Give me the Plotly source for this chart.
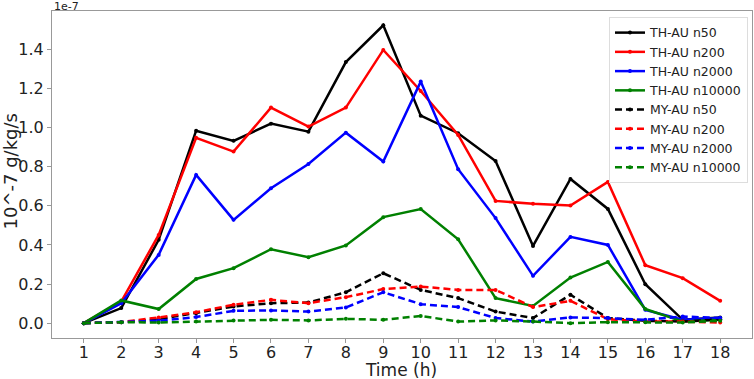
import plotly.graph_objects as go

hours = list(range(1, 19))
tick_labels = [str(h) for h in hours]

th_n50 = [0.0, 0.077, 0.426, 0.984, 0.932, 1.02, 0.979, 1.335, 1.523, 1.061, 0.971, 0.829, 0.395, 0.737, 0.584, 0.199, 0.017, 0.029]
th_n200 = [0.0, 0.11, 0.451, 0.948, 0.877, 1.102, 1.005, 1.102, 1.397, 1.187, 0.962, 0.625, 0.61, 0.601, 0.722, 0.296, 0.23, 0.114]
th_n2000 = [0.0, 0.102, 0.349, 0.758, 0.528, 0.69, 0.814, 0.974, 0.826, 1.235, 0.787, 0.537, 0.242, 0.441, 0.4, 0.068, 0.017, 0.026]
th_n10000 = [0.0, 0.116, 0.072, 0.226, 0.281, 0.378, 0.337, 0.397, 0.542, 0.583, 0.429, 0.128, 0.088, 0.233, 0.313, 0.072, 0.008, 0.017]
my_n50 = [0.0, 0.005, 0.02, 0.051, 0.085, 0.102, 0.105, 0.158, 0.255, 0.17, 0.128, 0.059, 0.026, 0.145, 0.026, 0.012, 0.008, 0.02]
my_n200 = [0.0, 0.005, 0.029, 0.056, 0.094, 0.119, 0.102, 0.133, 0.174, 0.187, 0.17, 0.17, 0.082, 0.114, 0.02, 0.008, 0.008, 0.003]
my_n2000 = [0.0, 0.005, 0.012, 0.031, 0.063, 0.065, 0.059, 0.08, 0.158, 0.097, 0.082, 0.026, 0.008, 0.029, 0.026, 0.017, 0.034, 0.026]
my_n10000 = [0.0, 0.005, 0.003, 0.008, 0.014, 0.017, 0.014, 0.022, 0.017, 0.037, 0.008, 0.014, 0.008, 0.0, 0.005, 0.005, 0.003, 0.012]

y_ticks = [0.0, 0.2, 0.4, 0.6, 0.8, 1.0, 1.2, 1.4]

series = [
    ("TH-AU n50", th_n50, "black", "solid"),
    ("TH-AU n200", th_n200, "red", "solid"),
    ("TH-AU n2000", th_n2000, "blue", "solid"),
    ("TH-AU n10000", th_n10000, "green", "solid"),
    ("MY-AU n50", my_n50, "black", "7px,4px"),
    ("MY-AU n200", my_n200, "red", "7px,4px"),
    ("MY-AU n2000", my_n2000, "blue", "7px,4px"),
    ("MY-AU n10000", my_n10000, "green", "7px,4px"),
]

fig = go.Figure()
for name, vals, color, dash in series:
    fig.add_trace(go.Scatter(
        x=hours, y=vals, name=name, mode="lines+markers",
        line=dict(color=color, width=2.5, dash=dash),
        marker=dict(color=color, size=4),
    ))

axis_common = dict(
    showgrid=False, zeroline=False, showline=True, mirror=True, automargin=False,
    linecolor="#999999", linewidth=1, ticks="outside", ticklen=4,
    tickcolor="#999999", tickfont=dict(family="DejaVu Sans", size=16, color="#222"),
)

fig.update_layout(
    width=754, height=379,
    margin=dict(l=52, r=2, t=11, b=41, autoexpand=False),
    paper_bgcolor="white", plot_bgcolor="white",
    font=dict(family="DejaVu Sans", color="#222"),
    xaxis=dict(range=[0.15, 18.85], tickvals=hours, ticktext=tick_labels,
               ticklabelstandoff=-4, **axis_common),
    yaxis=dict(range=[-0.076, 1.596], tickvals=y_ticks, tickformat=".1f", **axis_common),
    legend=dict(x=0.7957, y=0.9817, xanchor="left", yanchor="top",
                bgcolor="white", bordercolor="#dddddd", borderwidth=1,
                font=dict(size=12.5, family="DejaVu Sans", color="#222"),
                tracegroupgap=0, itemwidth=30),
    showlegend=True,
)

# axis titles placed in pixel-equivalent paper coords
fig.add_annotation(text="Time (h)", xref="paper", yref="paper",
                   x=(401 - 52) / 700, y=(338 - 370) / 327,
                   xanchor="center", yanchor="middle", showarrow=False,
                   font=dict(size=17, family="DejaVu Sans", color="#222"))
fig.add_annotation(text="10^-7 g/kg/s", xref="paper", yref="paper",
                   x=(10 - 52) / 700, y=(338 - 171.5) / 327, textangle=-90,
                   xanchor="center", yanchor="middle", showarrow=False,
                   font=dict(size=18, family="DejaVu Sans", color="#222"))
fig.add_annotation(text="1e-7", xref="paper", yref="paper", x=0, y=(338 - 6.5) / 327,
                   xanchor="left", yanchor="middle", showarrow=False,
                   font=dict(size=11, family="DejaVu Sans", color="#222"))

fig.write_html("out.html", config={"displayModeBar": False},
               post_script="document.body.style.margin='0px';document.body.style.overflow='hidden';")
